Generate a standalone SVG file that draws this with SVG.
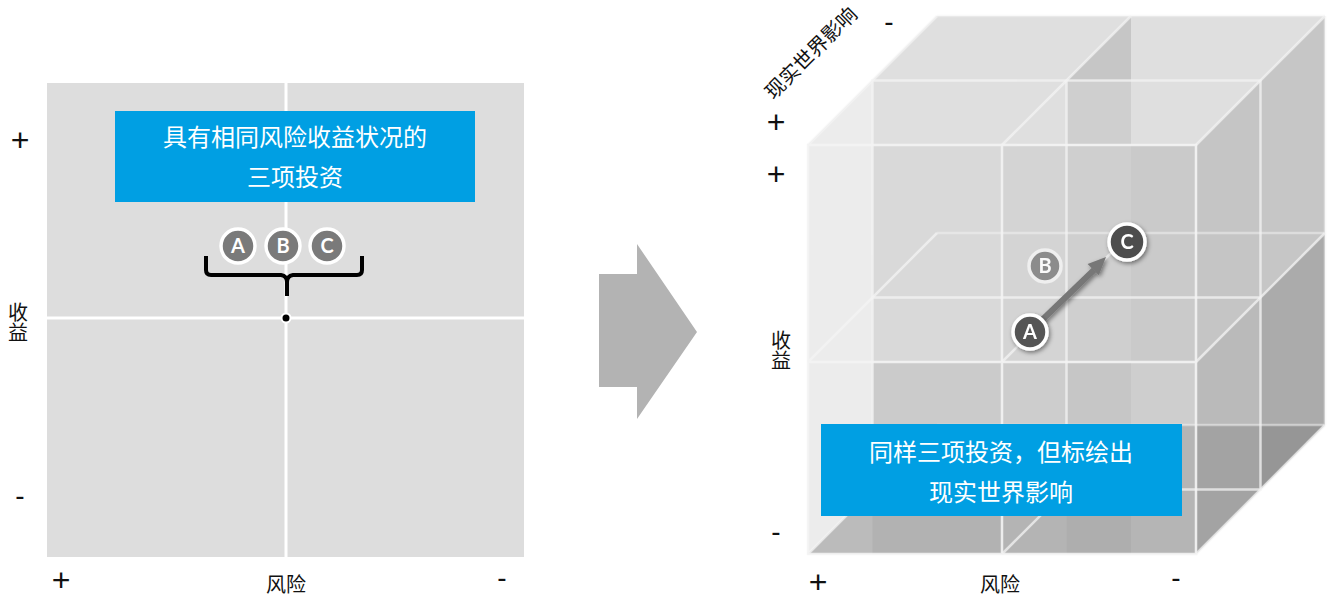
<svg xmlns="http://www.w3.org/2000/svg" width="1330" height="598" viewBox="0 0 1330 598">
<defs>
<style>
.lbl{font-family:"Noto Sans CJK SC","Noto Sans",sans-serif;font-size:20px;fill:#111}
.vlbl{font-family:"Noto Sans CJK SC","Noto Sans",sans-serif;font-size:20px;fill:#111;writing-mode:vertical-rl;text-anchor:middle}
.sym{font-family:"Liberation Sans","DejaVu Sans",sans-serif;font-size:32px;fill:#111;text-anchor:middle}
.dash{font-family:"Liberation Sans","DejaVu Sans",sans-serif;font-size:28px;fill:#111;text-anchor:middle}
.btxt{font-family:"Noto Sans CJK SC","Noto Sans",sans-serif;font-size:24px;fill:#fff;text-anchor:middle}
.blue{fill:#009fe3}
.circ{stroke:#fff;stroke-width:3.5}
.let{font-family:"Lato","Noto Sans",sans-serif;font-weight:bold;font-size:20px;fill:#fff;text-anchor:middle}
.g0{stroke:#f4f4f4;stroke-width:2.5;fill:none;opacity:0.9}
.g1{stroke:#f4f4f4;stroke-width:2.5;fill:none;opacity:0.75}
.g2{stroke:#f4f4f4;stroke-width:2.5;fill:none;opacity:0.5}
</style>
<filter id="sh" x="-50%" y="-50%" width="200%" height="200%">
<feDropShadow dx="1.5" dy="2" stdDeviation="2" flood-color="#000" flood-opacity="0.45"/>
</filter>
</defs>

<!-- LEFT PANEL -->
<g id="matrix2d">
<rect x="47" y="83" width="477" height="474" fill="#dddddd"/>
<line x1="286" y1="83" x2="286" y2="557" stroke="#fff" stroke-width="3"/>
<line x1="47" y1="318" x2="524" y2="318" stroke="#fff" stroke-width="3"/>
<circle cx="286" cy="318" r="4.5" fill="#000" stroke="#fff" stroke-width="2"/>
</g>
<g id="box1">
<rect class="blue" x="115" y="111" width="360" height="91"/>
<text class="btxt" x="295" y="146">具有相同风险收益状况的</text>
<text class="btxt" x="295" y="186">三项投资</text>
</g>
<g id="node-A1"><circle class="circ" cx="238" cy="246" r="17" fill="#7a7a7a"/><text class="let" x="238" y="253">A</text></g>
<g id="node-B1"><circle class="circ" cx="283" cy="246" r="17" fill="#7a7a7a"/><text class="let" x="283" y="253">B</text></g>
<g id="node-C1"><circle class="circ" cx="327" cy="246" r="17" fill="#7a7a7a" stroke-width="2.5"/><text class="let" x="327" y="253">C</text></g>
<g id="labels-left">
<text class="sym" x="20" y="151">+</text>
<text class="dash" x="20" y="505">-</text>
<text class="vlbl" x="18" y="322">收益</text>
<text class="sym" x="61" y="591">+</text>
<text class="lbl" x="286" y="592" text-anchor="middle">风险</text>
<text class="dash" x="502" y="587">-</text>
</g>

<!-- CUBE -->
<g id="cube">
<polygon points="808,145 937,16 1325,16 1325,425 1196,554 808,554" fill="#d5d5d5"/>
<polygon points="808,145 937,16 1325,16 1196,145" fill="#dfdfdf"/>
<polygon points="872.5,145 1002,145 1002,362 872.5,362" fill="#d9d9d9"/>
<polygon points="872.5,362 1002,362 1002,554 872.5,554" fill="#cbcbcb"/>
<polygon points="1002,145 1066.5,145 1066.5,362 1002,362" fill="#d4d4d4"/>
<polygon points="1002,362 1066.5,362 1066.5,554 1002,554" fill="#cdcdcd"/>
<polygon points="1066.5,80.5 1131,16 1131,80.5" fill="#c6c6c6"/>
<polygon points="1066.5,80.5 1131,80.5 1131,362 1066.5,362" fill="#cfcfcf"/>
<polygon points="1066.5,362 1131,362 1131,554 1066.5,554" fill="#c6c6c6"/>
<polygon points="1131,145 1196,145 1196,362 1131,362" fill="#cacaca"/>
<polygon points="1131,362 1196,362 1196,554 1131,554" fill="#cecece"/>
<polygon points="1196,145 1260.5,80.5 1260.5,297.5 1196,362" fill="#c5c5c5"/>
<polygon points="1260.5,80.5 1325,16 1325,233 1260.5,297.5" fill="#c6c6c6"/>
<polygon points="1196,362 1260.5,297.5 1260.5,489.5 1196,554" fill="#bababa"/>
<polygon points="1260.5,297.5 1325,233 1325,425 1260.5,489.5" fill="#ababab"/>
<polygon points="808,145 872.5,80.5 872.5,489.5 808,554" fill="#ececec"/>
<polygon points="808,554 937,425 1325,425 1196,554" fill="#000" opacity="0.12"/>
<g class="g2">
<line x1="937" y1="16" x2="1325" y2="16"/>
<line x1="937" y1="233" x2="1325" y2="233"/>
<line x1="937" y1="425" x2="1325" y2="425"/>
<line x1="1325" y1="16" x2="1325" y2="425"/>
</g>
<g class="g1">
<rect x="872.5" y="80.5" width="388" height="409"/>
<line x1="1066.5" y1="80.5" x2="1066.5" y2="489.5"/>
<line x1="872.5" y1="297.5" x2="1260.5" y2="297.5"/>
</g>
<g class="g1">
<line x1="808" y1="145" x2="937" y2="16"/>
<line x1="1002" y1="145" x2="1131" y2="16"/>
<line x1="1196" y1="145" x2="1325" y2="16"/>
<line x1="808" y1="362" x2="937" y2="233"/>
<line x1="1002" y1="362" x2="1131" y2="233"/>
<line x1="1196" y1="362" x2="1325" y2="233"/>
<line x1="808" y1="554" x2="937" y2="425"/>
<line x1="1002" y1="554" x2="1131" y2="425"/>
<line x1="1196" y1="554" x2="1325" y2="425"/>
</g>
<g class="g0">
<rect x="808" y="145" width="388" height="409"/>
<line x1="1002" y1="145" x2="1002" y2="554"/>
<line x1="808" y1="362" x2="1196" y2="362"/>
</g>
</g>

<g id="connectors">
<polygon id="big-arrow" points="599,274 637,274 637,244 697,332 637,419 637,387 599,387" fill="#b3b3b3"/>
<path id="brace" d="M206,256 V270 Q206,275 211,275 H281 Q287,276 287,282 V296 M287,282 Q287,276 293,275 H357 Q362,275 362,270 V256" fill="none" stroke="#000" stroke-width="4"/>
<g id="arrow-AC" filter="url(#sh)">
<line x1="1040" y1="322" x2="1094" y2="270" stroke="#777" stroke-width="6"/>
<polygon points="1106,257 1098.8,275.3 1087.6,263.9" fill="#777"/>
</g>
</g>

<g id="node-B2" opacity="0.9"><circle cx="1045" cy="266" r="16" fill="#858585" stroke="#f2f2f2" stroke-width="3.5"/><text class="let" x="1045" y="273">B</text></g>
<g id="node-A2" filter="url(#sh)"><circle class="circ" cx="1030" cy="332" r="17" fill="#555"/><text class="let" x="1030" y="339">A</text></g>
<g id="node-C2" filter="url(#sh)"><circle class="circ" cx="1127" cy="242" r="18" fill="#4d4d4d"/><text class="let" x="1127" y="249">C</text></g>

<g id="box2">
<rect class="blue" x="821" y="424" width="361" height="92"/>
<text class="btxt" x="1001" y="461">同样三项投资，但标绘出</text>
<text class="btxt" x="1001" y="501">现实世界影响</text>
</g>

<g id="labels-right">
<text class="lbl" x="811" y="60" font-size="21" text-anchor="middle" transform="rotate(-45 811 53)">现实世界影响</text>
<text class="dash" x="889" y="31">-</text>
<text class="sym" x="776" y="133">+</text>
<text class="sym" x="776" y="185">+</text>
<text class="vlbl" x="781" y="350">收益</text>
<text class="dash" x="776" y="541">-</text>
<text class="sym" x="818" y="593">+</text>
<text class="lbl" x="1000" y="592" text-anchor="middle">风险</text>
<text class="dash" x="1176" y="587">-</text>
</g>
</svg>
